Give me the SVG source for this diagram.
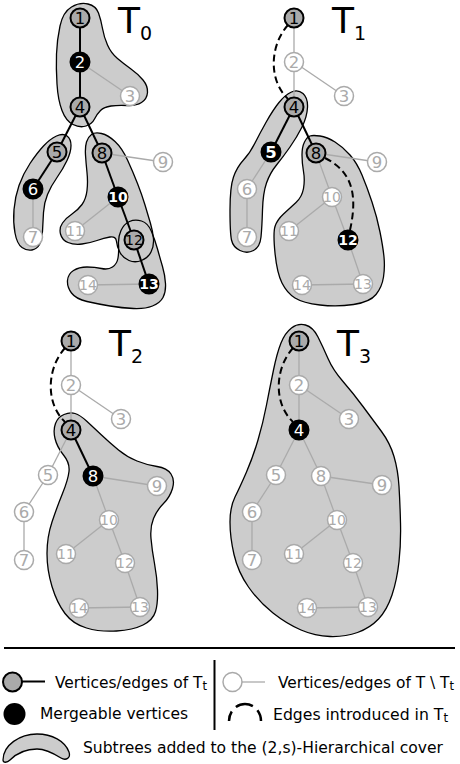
<svg xmlns="http://www.w3.org/2000/svg" xmlns:xlink="http://www.w3.org/1999/xlink" width="460" height="764" viewBox="0 0 460 764">
<style>
.hull{fill:#ccc;stroke:#000;stroke-width:1.3}
.hf{fill:#ccc;stroke:none}
.hs{fill:none;stroke:#000;stroke-width:1.3}
.ge{stroke:#aaa;stroke-width:1.3;fill:none}
.be{stroke:#000;stroke-width:2;fill:none}
.de{stroke:#000;stroke-width:2;fill:none;stroke-dasharray:7 4}
.node text{font-family:"DejaVu Sans",sans-serif;font-size:16.5px;text-anchor:middle}
.node text.d2{font-size:14px}
.node text.bd{font-weight:bold}
.g circle{fill:#aaa;stroke:#000;stroke-width:2}
.g text{fill:#000}
.b circle{fill:#000;stroke:#000;stroke-width:2}
.b text{fill:#fff}
.w circle{fill:#fff;stroke:#aaa;stroke-width:1.5}
.w text{fill:#aaa}
.lbl{font-family:"DejaVu Sans",sans-serif;fill:#000}
.leg{font-family:"DejaVu Sans",sans-serif;font-size:16px;fill:#000}
.sub{font-size:12px}
</style>
<defs>
<path id="t0A" d="M 91.5 134.5 Q 95 132 101.5 133.5 Q 108 135 115 141.5 Q 122 148 127.5 160 Q 133 172 137.5 183.5 Q 142 195 145 205 Q 148 215 150.5 223.5 Q 153 232 153.5 239 Q 154 246 151 252 Q 148 258 141.5 260.5 Q 135 263 129 260.5 Q 123 258 120 252.5 Q 117 247 116.5 241.5 Q 116 236 110 237 Q 104 238 97 240.5 Q 90 243 82 244 Q 74 245 68 242.5 Q 62 240 60.5 234 Q 59 228 62.5 223 Q 66 218 72 214 Q 78 210 82 204.5 Q 86 199 87 190.5 Q 88 182 87 172.5 Q 86 163 85.5 155 Q 85 147 86.5 142 Q 88 137 91.5 134.5 Z"/>
<path id="t0B" d="M 129.5 221.5 Q 135 219 141.5 221 Q 148 223 151.5 231.5 Q 155 240 157.5 249 Q 160 258 162.5 266.5 Q 165 275 165.5 283.5 Q 166 292 163 297.5 Q 160 303 152.5 306 Q 145 309 133.5 308.5 Q 122 308 110 306 Q 98 304 87 301.5 Q 76 299 71.5 293 Q 67 287 67.5 280.5 Q 68 274 73.5 270.5 Q 79 267 87 267 Q 95 267 101.5 268.5 Q 108 270 112.5 267 Q 117 264 118 258 Q 119 252 118.5 244.5 Q 118 237 121 230.5 Q 124 224 129.5 221.5 Z"/>
</defs>

<!-- Panel T0 -->
<g id="panel-T0">
  <g id="t0-hulls">
    <path class="hull" d="M 71.5 7 Q 80 2 88 4 Q 96 6 98.5 13 Q 101 20 102.5 28.5 Q 104 37 107.5 45 Q 111 53 117.5 58.5 Q 124 64 131 69 Q 138 74 143 80 Q 148 86 147.5 92.5 Q 147 99 141.5 102.5 Q 136 106 127 105.5 Q 118 105 111 106 Q 104 107 100.5 110.5 Q 97 114 94.5 119 Q 92 124 86 126 Q 80 128 73 124.5 Q 66 121 62 110.5 Q 58 100 57 84 Q 56 68 56.5 54 Q 57 40 60 26 Q 63 12 71.5 7 Z"/>
    <path class="hull" d="M 56.5 136 Q 63 133 67 136 Q 71 139 71 145.5 Q 71 152 67 160.5 Q 63 169 57 177.5 Q 51 186 47.5 194.5 Q 44 203 43.5 212.5 Q 43 222 42.5 231 Q 42 240 39.5 244.5 Q 37 249 32 250 Q 27 251 22 247.5 Q 17 244 15 233 Q 13 222 14 209.5 Q 15 197 19 185.5 Q 23 174 30 163.5 Q 37 153 43.5 146 Q 50 139 56.5 136 Z"/>
    <use xlink:href="#t0A" href="#t0A" class="hf"/>
    <use xlink:href="#t0B" href="#t0B" class="hf"/>
    <use xlink:href="#t0A" href="#t0A" class="hs"/>
    <use xlink:href="#t0B" href="#t0B" class="hs"/>
  </g>
  <g id="t0-edges">
    <line class="ge" x1="80" y1="62" x2="130" y2="96"/>
    <line class="ge" x1="33" y1="189" x2="33" y2="237"/>
    <line class="ge" x1="102" y1="153" x2="163" y2="162"/>
    <line class="ge" x1="118" y1="197" x2="75" y2="231"/>
    <line class="ge" x1="149" y1="284" x2="88" y2="285"/>
    <line class="be" x1="80" y1="18" x2="80" y2="62"/>
    <line class="be" x1="80" y1="62" x2="80" y2="107"/>
    <line class="be" x1="80" y1="107" x2="57" y2="152"/>
    <line class="be" x1="57" y1="152" x2="33" y2="189"/>
    <line class="be" x1="80" y1="107" x2="102" y2="153"/>
    <line class="be" x1="102" y1="153" x2="118" y2="197"/>
    <line class="be" x1="118" y1="197" x2="134" y2="240"/>
    <line class="be" x1="134" y1="240" x2="149" y2="284"/>
  </g>
  <g id="t0-n1" class="node g" transform="translate(80,18)"><circle r="9.5"/><text y="6">1</text></g>
  <g id="t0-n2" class="node b" transform="translate(80,62)"><circle r="9.5"/><text y="6">2</text></g>
  <g id="t0-n3" class="node w" transform="translate(130,96)"><circle r="9.5"/><text y="6">3</text></g>
  <g id="t0-n4" class="node g" transform="translate(80,107)"><circle r="9.5"/><text y="6">4</text></g>
  <g id="t0-n5" class="node g" transform="translate(57,152)"><circle r="9.5"/><text y="6">5</text></g>
  <g id="t0-n6" class="node b" transform="translate(33,189)"><circle r="9.5"/><text y="6">6</text></g>
  <g id="t0-n7" class="node w" transform="translate(33,237)"><circle r="9.5"/><text y="6">7</text></g>
  <g id="t0-n8" class="node g" transform="translate(102,153)"><circle r="9.5"/><text y="6">8</text></g>
  <g id="t0-n9" class="node w" transform="translate(163,162)"><circle r="9.5"/><text y="6">9</text></g>
  <g id="t0-n10" class="node b" transform="translate(118,197)"><circle r="9.5"/><text class="d2 bd" y="5">10</text></g>
  <g id="t0-n11" class="node w" transform="translate(75,231)"><circle r="9.5"/><text class="d2" y="5">11</text></g>
  <g id="t0-n12" class="node g" transform="translate(134,240)"><circle r="9.5"/><text class="d2" y="5">12</text></g>
  <g id="t0-n13" class="node b" transform="translate(149,284)"><circle r="9.5"/><text class="d2 bd" y="5">13</text></g>
  <g id="t0-n14" class="node w" transform="translate(88,285)"><circle r="9.5"/><text class="d2" y="5">14</text></g>
  <g id="t0-label"><text class="lbl" x="118" y="33" font-size="36">T<tspan font-size="19" dy="7">0</tspan></text></g>
</g>

<!-- Panel T1 -->
<g id="panel-T1" transform="translate(214,0)">
  <g id="t1-hulls">
    <path class="hull" d="M 77.5 92 Q 84 89 89 93.5 Q 94 98 93.5 107.5 Q 93 117 88 127 Q 83 137 76 147 Q 69 157 62.5 165 Q 56 173 52.5 183 Q 49 193 48.5 210 Q 48 227 47 237 Q 46 247 39.5 250.5 Q 33 254 26 250.5 Q 19 247 17.5 240 Q 16 233 16 210 Q 16 187 19.5 177 Q 23 167 29.5 160 Q 36 153 41 143 Q 46 133 52.5 121.5 Q 59 110 65 102.5 Q 71 95 77.5 92 Z"/>
    <path class="hull" d="M 96 136 Q 99 135 106 136 Q 113 137 121 142 Q 129 147 136 155 Q 143 163 148 175 Q 153 187 158 202 Q 163 217 166 232 Q 169 247 170 257 Q 171 267 169.5 277 Q 168 287 162 294.5 Q 156 302 139.5 304.5 Q 123 307 106 305 Q 89 303 81 298 Q 73 293 68 283 Q 63 273 61 253 Q 59 233 61 226.5 Q 63 220 69.5 214 Q 76 208 82 202.5 Q 88 197 89.5 188.5 Q 91 180 89.5 171.5 Q 88 163 88 155 Q 88 147 90.5 142 Q 93 137 96 136 Z"/>
  </g>
  <g id="t1-edges">
    <line class="ge" x1="80" y1="18" x2="80" y2="62"/>
    <line class="ge" x1="80" y1="62" x2="80" y2="107"/>
    <line class="ge" x1="80" y1="62" x2="130" y2="96"/>
    <line class="ge" x1="57" y1="152" x2="33" y2="189"/>
    <line class="ge" x1="33" y1="189" x2="33" y2="237"/>
    <line class="ge" x1="102" y1="153" x2="163" y2="162"/>
    <line class="ge" x1="102" y1="153" x2="118" y2="197"/>
    <line class="ge" x1="118" y1="197" x2="75" y2="231"/>
    <line class="ge" x1="118" y1="197" x2="134" y2="240"/>
    <line class="ge" x1="134" y1="240" x2="149" y2="284"/>
    <line class="ge" x1="149" y1="284" x2="88" y2="285"/>
    <line class="be" x1="80" y1="107" x2="57" y2="152"/>
    <line class="be" x1="80" y1="107" x2="102" y2="153"/>
    <path class="de" d="M 74 25 C 56 45, 54 80, 74 99"/>
    <path class="de" d="M 111 158 C 135 170, 145 190, 136 230"/>
  </g>
  <g id="t1-n1" class="node g" transform="translate(80,18)"><circle r="9.5"/><text y="6">1</text></g>
  <g id="t1-n2" class="node w" transform="translate(80,62)"><circle r="9.5"/><text y="6">2</text></g>
  <g id="t1-n3" class="node w" transform="translate(130,96)"><circle r="9.5"/><text y="6">3</text></g>
  <g id="t1-n4" class="node g" transform="translate(80,107)"><circle r="9.5"/><text y="6">4</text></g>
  <g id="t1-n5" class="node b" transform="translate(57,152)"><circle r="9.5"/><text class="bd" y="6">5</text></g>
  <g id="t1-n6" class="node w" transform="translate(33,189)"><circle r="9.5"/><text y="6">6</text></g>
  <g id="t1-n7" class="node w" transform="translate(33,237)"><circle r="9.5"/><text y="6">7</text></g>
  <g id="t1-n8" class="node g" transform="translate(102,153)"><circle r="9.5"/><text y="6">8</text></g>
  <g id="t1-n9" class="node w" transform="translate(163,162)"><circle r="9.5"/><text y="6">9</text></g>
  <g id="t1-n10" class="node w" transform="translate(118,197)"><circle r="9.5"/><text class="d2" y="5">10</text></g>
  <g id="t1-n11" class="node w" transform="translate(75,231)"><circle r="9.5"/><text class="d2" y="5">11</text></g>
  <g id="t1-n12" class="node b" transform="translate(134,240)"><circle r="9.5"/><text class="d2 bd" y="5">12</text></g>
  <g id="t1-n13" class="node w" transform="translate(149,284)"><circle r="9.5"/><text class="d2" y="5">13</text></g>
  <g id="t1-n14" class="node w" transform="translate(88,285)"><circle r="9.5"/><text class="d2" y="5">14</text></g>
  <g id="t1-label"><text class="lbl" x="118" y="33" font-size="36">T<tspan font-size="19" dy="7">1</tspan></text></g>
</g>

<!-- Panel T2 -->
<g id="panel-T2" transform="translate(-9,323)">
  <g id="t2-hulls">
    <path class="hull" d="M 73 91.5 Q 79 89 84 90.5 Q 89 92 95.5 98 Q 102 104 110.5 112 Q 119 120 127.5 127 Q 136 134 146 138 Q 156 142 166 143.5 Q 176 145 180 151 Q 184 157 181.5 165.5 Q 179 174 172.5 180.5 Q 166 187 162.5 195.5 Q 159 204 160 215.5 Q 161 227 163.5 240.5 Q 166 254 166.5 267 Q 167 280 164.5 288.5 Q 162 297 152 302 Q 142 307 125.5 308 Q 109 309 95.5 305 Q 82 301 74 290.5 Q 66 280 61 263.5 Q 56 247 56 230.5 Q 56 214 61 199 Q 66 184 71.5 170.5 Q 77 157 78 148.5 Q 79 140 72.5 132 Q 66 124 64 115.5 Q 62 107 64.5 100.5 Q 67 94 73 91.5 Z"/>
  </g>
  <g id="t2-edges">
    <line class="ge" x1="80" y1="18" x2="80" y2="62"/>
    <line class="ge" x1="80" y1="62" x2="80" y2="107"/>
    <line class="ge" x1="80" y1="62" x2="130" y2="96"/>
    <line class="ge" x1="80" y1="107" x2="57" y2="152"/>
    <line class="ge" x1="57" y1="152" x2="33" y2="189"/>
    <line class="ge" x1="33" y1="189" x2="33" y2="237"/>
    <line class="ge" x1="102" y1="153" x2="166" y2="163"/>
    <line class="ge" x1="102" y1="153" x2="118" y2="197"/>
    <line class="ge" x1="118" y1="197" x2="75" y2="231"/>
    <line class="ge" x1="118" y1="197" x2="134" y2="240"/>
    <line class="ge" x1="134" y1="240" x2="149" y2="284"/>
    <line class="ge" x1="149" y1="284" x2="88" y2="285"/>
    <line class="be" x1="80" y1="107" x2="102" y2="153"/>
    <path class="de" d="M 74 25 C 56 45, 54 80, 74 99"/>
  </g>
  <g id="t2-n1" class="node g" transform="translate(80,18)"><circle r="9.5"/><text y="6">1</text></g>
  <g id="t2-n2" class="node w" transform="translate(80,62)"><circle r="9.5"/><text y="6">2</text></g>
  <g id="t2-n3" class="node w" transform="translate(130,96)"><circle r="9.5"/><text y="6">3</text></g>
  <g id="t2-n4" class="node g" transform="translate(80,107)"><circle r="9.5"/><text y="6">4</text></g>
  <g id="t2-n5" class="node w" transform="translate(57,152)"><circle r="9.5"/><text y="6">5</text></g>
  <g id="t2-n6" class="node w" transform="translate(33,189)"><circle r="9.5"/><text y="6">6</text></g>
  <g id="t2-n7" class="node w" transform="translate(33,237)"><circle r="9.5"/><text y="6">7</text></g>
  <g id="t2-n8" class="node b" transform="translate(102,153)"><circle r="9.5"/><text y="6">8</text></g>
  <g id="t2-n9" class="node w" transform="translate(166,163)"><circle r="9.5"/><text y="6">9</text></g>
  <g id="t2-n10" class="node w" transform="translate(118,197)"><circle r="9.5"/><text class="d2" y="5">10</text></g>
  <g id="t2-n11" class="node w" transform="translate(75,231)"><circle r="9.5"/><text class="d2" y="5">11</text></g>
  <g id="t2-n12" class="node w" transform="translate(134,240)"><circle r="9.5"/><text class="d2" y="5">12</text></g>
  <g id="t2-n13" class="node w" transform="translate(149,284)"><circle r="9.5"/><text class="d2" y="5">13</text></g>
  <g id="t2-n14" class="node w" transform="translate(88,285)"><circle r="9.5"/><text class="d2" y="5">14</text></g>
  <g id="t2-label"><text class="lbl" x="118" y="33" font-size="36">T<tspan font-size="19" dy="7">2</tspan></text></g>
</g>

<!-- Panel T3 -->
<g id="panel-T3" transform="translate(219,323)">
  <g id="t3-hulls">
    <path class="hull" d="M 72.5 5 Q 79 0 86.5 2 Q 94 4 99 14 Q 104 24 109 35.5 Q 114 47 124 58.5 Q 134 70 144 83.5 Q 154 97 162.5 108.5 Q 171 120 175 133.5 Q 179 147 180 163.5 Q 181 180 181.5 200 Q 182 220 180 238.5 Q 178 257 173 272 Q 168 287 159.5 296 Q 151 305 138.5 309.5 Q 126 314 111 313.5 Q 96 313 82 307 Q 68 301 54 290 Q 40 279 29.5 264 Q 19 249 15 231.5 Q 11 214 11 199 Q 11 184 16 174 Q 21 164 27.5 149 Q 34 134 39 117 Q 44 100 47.5 82 Q 51 64 54.5 47 Q 58 30 62 20 Q 66 10 72.5 5 Z"/>
  </g>
  <g id="t3-edges">
    <line class="ge" x1="80" y1="18" x2="80" y2="62"/>
    <line class="ge" x1="80" y1="62" x2="80" y2="107"/>
    <line class="ge" x1="80" y1="62" x2="130" y2="96"/>
    <line class="ge" x1="80" y1="107" x2="57" y2="152"/>
    <line class="ge" x1="57" y1="152" x2="33" y2="189"/>
    <line class="ge" x1="33" y1="189" x2="33" y2="237"/>
    <line class="ge" x1="80" y1="107" x2="102" y2="153"/>
    <line class="ge" x1="102" y1="153" x2="163" y2="162"/>
    <line class="ge" x1="102" y1="153" x2="118" y2="197"/>
    <line class="ge" x1="118" y1="197" x2="75" y2="231"/>
    <line class="ge" x1="118" y1="197" x2="134" y2="240"/>
    <line class="ge" x1="134" y1="240" x2="149" y2="284"/>
    <line class="ge" x1="149" y1="284" x2="88" y2="285"/>
    <path class="de" d="M 74 25 C 56 45, 54 80, 74 99"/>
  </g>
  <g id="t3-n1" class="node g" transform="translate(80,18)"><circle r="9.5"/><text y="6">1</text></g>
  <g id="t3-n2" class="node w" transform="translate(80,62)"><circle r="9.5"/><text y="6">2</text></g>
  <g id="t3-n3" class="node w" transform="translate(130,96)"><circle r="9.5"/><text y="6">3</text></g>
  <g id="t3-n4" class="node b" transform="translate(80,107)"><circle r="9.5"/><text y="6">4</text></g>
  <g id="t3-n5" class="node w" transform="translate(57,152)"><circle r="9.5"/><text y="6">5</text></g>
  <g id="t3-n6" class="node w" transform="translate(33,189)"><circle r="9.5"/><text y="6">6</text></g>
  <g id="t3-n7" class="node w" transform="translate(33,237)"><circle r="9.5"/><text y="6">7</text></g>
  <g id="t3-n8" class="node w" transform="translate(102,153)"><circle r="9.5"/><text y="6">8</text></g>
  <g id="t3-n9" class="node w" transform="translate(163,162)"><circle r="9.5"/><text y="6">9</text></g>
  <g id="t3-n10" class="node w" transform="translate(118,197)"><circle r="9.5"/><text class="d2" y="5">10</text></g>
  <g id="t3-n11" class="node w" transform="translate(75,231)"><circle r="9.5"/><text class="d2" y="5">11</text></g>
  <g id="t3-n12" class="node w" transform="translate(134,240)"><circle r="9.5"/><text class="d2" y="5">12</text></g>
  <g id="t3-n13" class="node w" transform="translate(149,284)"><circle r="9.5"/><text class="d2" y="5">13</text></g>
  <g id="t3-n14" class="node w" transform="translate(88,285)"><circle r="9.5"/><text class="d2" y="5">14</text></g>
  <g id="t3-label"><text class="lbl" x="118" y="33" font-size="36">T<tspan font-size="19" dy="7">3</tspan></text></g>
</g>

<!-- Legend -->
<g id="legend">
  <line x1="4" y1="648" x2="455" y2="648" stroke="#000" stroke-width="2"/>
  <line x1="214.5" y1="660" x2="214.5" y2="730" stroke="#000" stroke-width="2"/>
  <g id="leg-tt">
    <line class="be" x1="20" y1="681.5" x2="45" y2="681.5"/>
    <circle cx="12.5" cy="682" r="9.5" fill="#aaa" stroke="#000" stroke-width="2"/>
    <text class="leg" x="55" y="688" textLength="152" lengthAdjust="spacingAndGlyphs">Vertices/edges of T<tspan class="sub" dy="2">t</tspan></text>
  </g>
  <g id="leg-other">
    <line class="ge" x1="242" y1="682" x2="265" y2="682"/>
    <circle cx="232.5" cy="682" r="9.5" fill="#fff" stroke="#aaa" stroke-width="1.5"/>
    <text class="leg" x="278" y="688" textLength="176" lengthAdjust="spacingAndGlyphs">Vertices/edges of T \ T<tspan class="sub" dy="2">t</tspan></text>
  </g>
  <g id="leg-merge">
    <circle cx="14.5" cy="714" r="11" fill="#000"/>
    <text class="leg" x="40" y="719" textLength="148" lengthAdjust="spacingAndGlyphs">Mergeable vertices</text>
  </g>
  <g id="leg-dashed">
    <path d="M 229 721 A 16 17 0 0 1 261 721" fill="none" stroke="#000" stroke-width="2.5" stroke-dasharray="10 6 18 6 12"/>
    <text class="leg" x="273" y="720" textLength="175" lengthAdjust="spacingAndGlyphs">Edges introduced in T<tspan class="sub" dy="2">t</tspan></text>
  </g>
  <g id="leg-hull">
    <path d="M 3 760 C 3 745, 20 734, 37 734 C 52 734, 65 741, 69 752 C 71 758, 66 761, 61 758 C 53 753, 45 749, 37 749 C 26 749, 17 753, 10 760 C 7 763, 3 763, 3 760 Z" fill="#ccc" stroke="#000" stroke-width="1.3"/>
    <text class="leg" x="83" y="753" textLength="360" lengthAdjust="spacingAndGlyphs">Subtrees added to the (2,s)-Hierarchical cover</text>
  </g>
</g>
</svg>
